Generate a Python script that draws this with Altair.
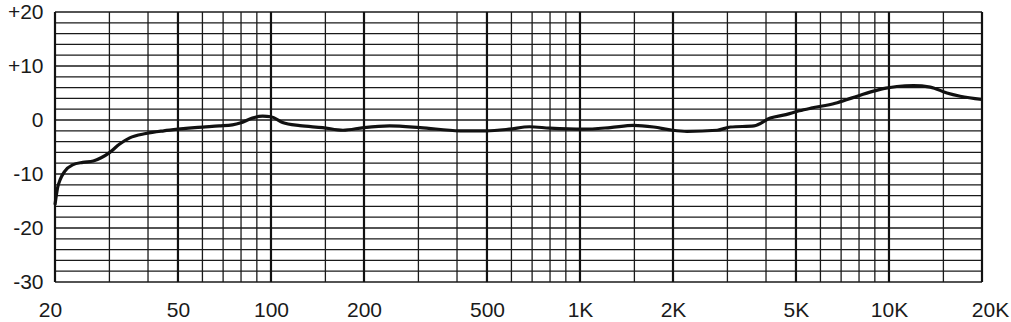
import altair as alt
import pandas as pd

# Frequency response curve (Hz, dB)
freq = [20, 20.4, 20.8, 21.5, 22.8, 24.6, 26.6, 28.2, 30.1, 32.3, 34.9, 39.4, 45, 50,
        58, 68, 75, 80, 87, 94, 100, 109, 124, 147, 171, 200, 242, 304, 409, 497,
        590, 686, 798, 1025, 1253, 1491, 1731, 1995, 2220, 2780, 3070, 3660, 4130,
        4640, 5130, 5600, 6700, 7600, 8850, 9780, 10600, 12000, 13600, 15400, 17000, 20000]
db = [-15.7, -12.5, -11.0, -9.5, -8.3, -7.85, -7.6, -7.0, -6.0, -4.5, -3.3, -2.5, -2.0, -1.7,
      -1.35, -1.1, -0.9, -0.5, 0.35, 0.7, 0.6, -0.45, -1.05, -1.4, -1.9, -1.4, -1.1, -1.4, -2.0, -2.0,
      -1.7, -1.25, -1.5, -1.7, -1.4, -1.0, -1.3, -1.9, -2.1, -1.9, -1.3, -1.1, 0.35,
      1.0, 1.7, 2.2, 3.1, 4.1, 5.3, 5.9, 6.2, 6.35, 6.1, 5.0, 4.4, 3.8]

minor_freqs = [30, 40, 60, 70, 80, 90, 150, 300, 400, 600, 700, 800, 900, 1500,
               3000, 4000, 6000, 7000, 8000, 9000, 15000]
major_freqs = [20, 50, 100, 200, 500, 1000, 2000, 5000, 10000, 20000]
x_labels = ["20", "50", "100", "200", "500", "1K", "2K", "5K", "10K", "20K"]
h_lines = list(range(-30, 21, 2))
y_ticks = [-30, -20, -10, 0, 10, 20]

curve = pd.DataFrame({"f": freq, "db": db})
minor_df = pd.DataFrame({"f": minor_freqs})
major_df = pd.DataFrame({"f": major_freqs})
h_df = pd.DataFrame({"y": h_lines})

xscale = alt.Scale(type="log", domain=[20, 20000], nice=False)
yscale = alt.Scale(domain=[-30, 20], nice=False, zero=False)

label_map = "{" + ",".join(f"'{v}':'{l}'" for v, l in zip(major_freqs, x_labels)) + "}"

xaxis = alt.Axis(values=major_freqs, labelExpr=f"{label_map}[datum.value + '']",
                 ticks=False, domain=False, grid=False, title=None, labelFlush=False,
                 labelFont="Liberation Sans", labelFontSize=21, labelColor="#1a1a1a",
                 labelPadding=17,
                 labelOffset={"condition": [{"test": "datum.value <= 20", "value": -5},
                                            {"test": "datum.value >= 20000", "value": 8}],
                              "value": 0})
yaxis = alt.Axis(values=y_ticks, labelExpr="datum.value > 0 ? '+' + datum.value : '' + datum.value",
                 ticks=False, domain=False, grid=False, title=None,
                 labelFont="Liberation Sans", labelFontSize=21, labelColor="#1a1a1a",
                 labelPadding=12)

hgrid = alt.Chart(h_df).mark_rule(color="#1a1a1a", strokeWidth=1.3).encode(
    y=alt.Y("y:Q", scale=yscale, axis=yaxis),
)
minor = alt.Chart(minor_df).mark_rule(color="#1a1a1a", strokeWidth=1.3).encode(
    x=alt.X("f:Q", scale=xscale, axis=xaxis),
)
major = alt.Chart(major_df).mark_rule(color="#111111", strokeWidth=2.2).encode(
    x=alt.X("f:Q", scale=xscale),
)
line = alt.Chart(curve).mark_line(color="#111111", strokeWidth=3.2, interpolate="monotone").encode(
    x=alt.X("f:Q", scale=xscale),
    y=alt.Y("db:Q", scale=yscale),
)

chart = alt.layer(hgrid, minor, major, line).properties(
    width=927, height=270,
    autosize=alt.AutoSizeParams(type="none"),
    padding={"left": 55, "top": 12, "right": 29, "bottom": 40},
    background="white",
).configure_view(stroke=None)

chart.save("out.html", embed_options={"renderer": "svg", "actions": False})
